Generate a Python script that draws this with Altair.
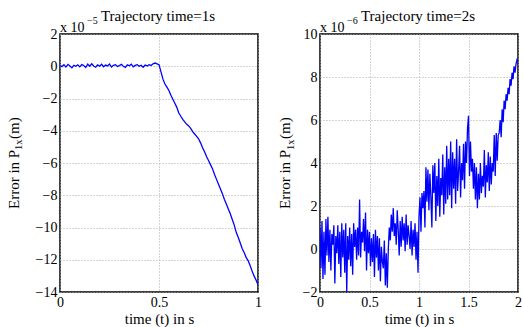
import altair as alt
import pandas as pd

# ---------------- data (values in units of 1e-5 m and 1e-6 m) ----------------
left_flat = [0.05, -0.02, 0.1, -0.05, 0.12, 0.02, -0.1, 0.06, 0.0, 0.09,
             -0.04, 0.1, 0.05, -0.08, 0.13, 0.0, 0.15, 0.02, -0.06, 0.08,
             0.0, 0.12, -0.03, 0.07, 0.02, 0.14, -0.05, 0.06, 0.1, -0.02,
             0.04, 0.12, 0.0, -0.07, 0.09, 0.03, 0.13, -0.04, 0.05, 0.1,
             0.0, 0.06, -0.06, 0.08, 0.02, 0.1, 0.05, 0.15, 0.2]
left_drop = [0.15, 0.1, -0.35, -0.8, -1.1, -1.3, -1.5, -1.8, -2.05, -2.3,
             -2.55, -2.9, -3.1, -3.3, -3.45, -3.6, -3.7, -3.85, -4.05, -4.2,
             -4.35, -4.5, -4.75, -5.05, -5.3, -5.6, -5.85, -6.1, -6.35, -6.7,
             -7.0, -7.3, -7.6, -7.9, -8.25, -8.55, -8.85, -9.15, -9.5, -9.85,
             -10.3, -10.6, -10.95, -11.3, -11.55, -11.85, -12.05, -12.35, -12.7, -13.0,
             -13.25, -13.55]
left_v = left_flat + left_drop
left_t = [round(i * 0.01, 2) for i in range(len(left_v))]

right_v = [
    1.0, -0.9, 1.3, -1.4, 0.8, -1.2, 1.4, -0.3, 1.5, -0.6,
    0.9, -1.0, 0.7, 0.2, 1.1, -1.6, 0.6, -0.2, 1.1, -0.7,
    0.8, -1.3, 1.2, -0.4, 0.9, -1.1, 1.2, -2.0, 0.6, -0.5,
    1.0, -0.8, 0.7, -1.2, 1.2, 0.1, 0.9, -0.5, 1.0, -0.3,
    2.3, -0.4, 0.8, 0.3, 1.4, -0.1, 1.7, -1.0, 0.9, -0.2,
    0.8, -0.8, 0.5, -0.6, 0.7, -1.3, 0.9, -0.4, 0.6, -1.0,
    0.5, -1.5, 0.1, -0.6, -0.9, 0.4, -1.7, -0.2, -1.8, 0.0,
    1.0, 0.4, 1.6, 0.8, 1.9, 0.6, 1.2, 0.2, 1.8, 0.9,
    -0.3, 1.3, 0.1, 1.5, 0.4, 1.2, -0.1, 1.6, 0.2, 1.1,
    0.6, 0.0, 1.3, -0.3, 0.9, 0.1, 1.2, -0.5, 0.8, -1.1,
    1.5, 2.4, 0.8, 2.6, 1.9, 2.7, 1.0, 3.8, 2.2, 3.7,
    1.8, 3.5, 2.4, 1.0, 3.9, 2.6, 4.0, 1.3, 3.4, 2.0,
    4.2, 1.5, 3.3, 2.5, 4.4, 1.6, 3.8, 2.1, 4.8, 2.3,
    4.2, 2.5, 5.0, 1.9, 4.5, 2.8, 4.2, 2.1, 5.1, 2.7,
    3.6, 4.8, 2.4, 4.0, 3.2, 4.9, 2.8, 5.0, 4.0, 5.6,
    6.2, 3.4, 5.0, 3.6, 4.2, 2.8, 4.0, 2.3, 3.8, 1.9,
    3.5, 2.3, 4.0, 2.6, 3.4, 2.9, 4.6, 2.4, 3.9, 3.1,
    4.5, 2.7, 4.3, 3.0, 4.0, 3.6, 5.3, 3.4, 5.4, 4.1,
    5.3, 5.4, 6.0, 5.2, 6.5, 5.9, 6.9, 6.5, 7.2, 6.9,
    7.5, 7.2, 7.9, 7.6, 8.2, 7.9, 8.5, 8.2, 8.6, 8.8, 8.7,
]
right_t = [round(i * 0.01, 2) for i in range(len(right_v))]

left_xticks = [0, 0.5, 1]
left_yticks = [2, 0, -2, -4, -6, -8, -10, -12, -14]
right_xticks = [0, 0.5, 1, 1.5, 2]
right_yticks = [10, 8, 6, 4, 2, 0, -2]

titles = ["Trajectory time=1s", "Trajectory time=2s"]
exponents = ["\u22125", "\u22126"]

FONT = "Liberation Serif"
W, H = 198, 258


def txt(text, x, y, size=15, angle=0, align="left"):
    kw = dict(text=text, font=FONT, fontSize=size, align=align,
              baseline="alphabetic", color="black")
    if angle:
        kw["angle"] = angle
    return alt.Chart(pd.DataFrame({"a": [0]})).mark_text(**kw).encode(
        x=alt.value(x), y=alt.value(y))


def panel(t, v, xdom, xticks, ydom, yticks, title, exp, ytx):
    df = pd.DataFrame({"t": t, "v": v})
    line = alt.Chart(df).mark_line(color="#0000ff", strokeWidth=1.3, clip=True).encode(
        x=alt.X("t:Q", scale=alt.Scale(domain=xdom, nice=False, zero=False),
                axis=alt.Axis(values=xticks, format="~r", title="time (t) in s",
                              labelFont=FONT, titleFont=FONT)),
        y=alt.Y("v:Q", scale=alt.Scale(domain=ydom, nice=False, zero=False),
                axis=alt.Axis(values=yticks, format="~r", title=None,
                              labelFont=FONT)),
    )
    layers = [
        line,
        txt(title, W / 2 - 1, -13, 15, align="center"),
        txt("x 10", 0, -2, 14),
        txt(exp, 27, -10, 10),
        txt("Error in P", ytx, 175, 15, angle=270),
        txt("1x", ytx + 3.5, 116, 10.5, angle=270),
        txt(" (m)", ytx, 105, 15, angle=270),
    ]
    return alt.layer(*layers).properties(width=W, height=H)


left = panel(left_t, left_v, [0, 1], left_xticks, [-14, 2], left_yticks,
             titles[0], exponents[0], -41.5)
right = panel(right_t, right_v, [0, 2], right_xticks, [-2, 10], right_yticks,
              titles[1], exponents[1], -30)

chart = alt.hconcat(left, right, spacing=62, bounds="flush").properties(
    padding={"left": 5, "top": 8, "right": 0, "bottom": 4}
).configure(font=FONT).configure_axis(
    labelFont=FONT, labelFontSize=14, labelColor="black",
    titleFont=FONT, titleFontSize=15, titleColor="black", titleFontWeight="normal",
    ticks=False, domain=False, labelPadding=3, titlePadding=2,
    grid=True, gridDash=[1, 2], gridColor="#a8a8a8", gridWidth=1, gridOpacity=1,
    labelFlush=False,
).configure_view(stroke="black", strokeWidth=1.5)

chart.save("out.html", embed_options={"renderer": "svg", "actions": False})
